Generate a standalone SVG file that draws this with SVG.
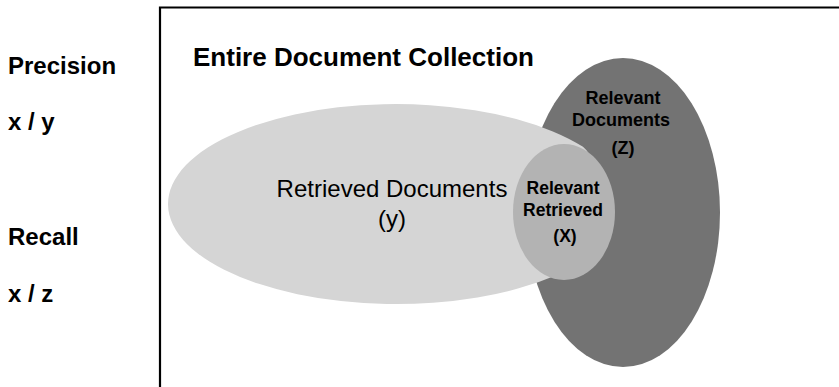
<svg xmlns="http://www.w3.org/2000/svg" width="839" height="387" viewBox="0 0 839 387">
<style>
text{font-family:"Liberation Sans",Arial,sans-serif;fill:#000}
.lab{font-size:24px;font-weight:bold}
.title{font-size:26px;font-weight:bold}
.big{font-size:24px;text-anchor:middle}
.sm{font-size:17.5px;font-weight:bold;text-anchor:middle}
</style>
<rect width="839" height="387" fill="#fff"/>
<g id="labels">
<text class="lab" x="8" y="74">Precision</text>
<text class="lab" x="8" y="130">x / y</text>
<text class="lab" x="8" y="245">Recall</text>
<text class="lab" x="8" y="302">x / z</text>
</g>
<g id="collection">
<path d="M160,390 V7.5 H842" fill="none" stroke="#000" stroke-width="2.2"/>
<text class="title" x="193" y="66">Entire Document Collection</text>
</g>
<g id="relevant">
<ellipse cx="623" cy="212.5" rx="97" ry="154.5" fill="#737373"/>
<text class="sm" x="623" y="104" style="font-size:18px">Relevant</text>
<text class="sm" x="621" y="126" style="font-size:18px">Documents</text>
<text class="sm" x="623" y="154" style="font-size:18px">(Z)</text>
</g>
<g id="retrieved">
<path d="M583,146.8 A228,100 0 1,0 555,275.7 C600,260 610,170 583,146.8 Z" fill="#d5d5d5"/>
<text class="big" x="392" y="197">Retrieved Documents</text>
<text class="big" x="392" y="227">(y)</text>
</g>
<g id="relevant-retrieved">
<ellipse cx="564" cy="212" rx="51" ry="68" fill="#b3b3b3"/>
<text class="sm" x="563" y="194">Relevant</text>
<text class="sm" x="563" y="216">Retrieved</text>
<text class="sm" x="565" y="242">(X)</text>
</g>
<g id="connectors"></g>
</svg>
